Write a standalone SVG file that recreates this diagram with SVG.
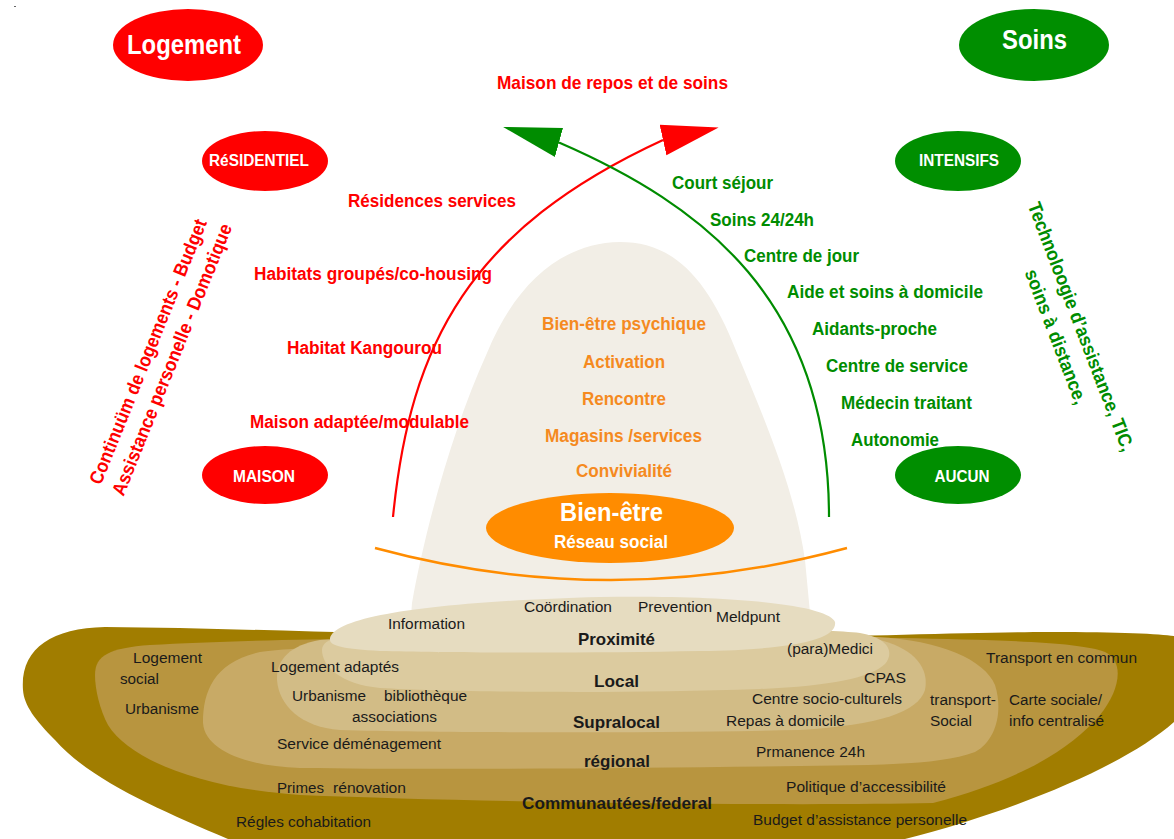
<svg xmlns="http://www.w3.org/2000/svg" width="1174" height="839" viewBox="0 0 1174 839">
  <style>
    text { font-family: "Liberation Sans", Arial, "DejaVu Sans", sans-serif; }
    .b { font-weight: bold; }
    .n { font-weight: normal; }
    .red { fill: #ff0000; }
    .grn { fill: #008c00; }
    .org { fill: #f58a1f; }
    .wht { fill: #ffffff; }
    .blk { fill: #1a1a1a; }
    .big { font-size: 27px; }
    .tag { font-size: 16px; }
    .item { font-size: 18px; }
    .side { font-size: 19px; }
    .lvl { font-size: 15.5px; }
    .lvlb { font-size: 17px; font-weight: bold; }
    .redshape { fill: #ff0000; }
    .grnshape { fill: #008e00; }
  </style>
  <defs>
    <marker id="headRed" markerUnits="userSpaceOnUse" markerWidth="60" markerHeight="34" viewBox="0 -17 60 34" refX="0" refY="0" orient="-12.6">
      <path d="M0,-15.5 L57,0 L0,15.5 Z" fill="#ff0000"/>
    </marker>
    <marker id="headGrn" markerUnits="userSpaceOnUse" markerWidth="60" markerHeight="34" viewBox="0 -17 60 34" refX="0" refY="0" orient="-164.5">
      <path d="M0,-15 L58,0 L0,15 Z" fill="#008c00"/>
    </marker>
  </defs>

  <rect width="1174" height="839" fill="#ffffff"/>
  <rect x="14" y="6" width="2" height="1" fill="#666666"/>

  <!-- well-being bell -->
  <path id="bell" d="M 408,655 L 412,603 C 425,530 452,430 487,353 C 515,285 560,243 620,242 C 668,242 705,270 737,353 C 765,420 795,490 805,560 L 814,655 Z" fill="#f2eee6"/>

  <!-- territorial levels, outermost first -->
  <g id="levels">
    <path d="M 23,690 C 20,650 50,628 105,627 C 250,628 400,636 600,638 C 800,640 950,632 1050,632 C 1120,632 1160,634 1174,636 L 1174,722 C 1120,770 1000,815 905,839 L 228,839 C 160,810 90,780 55,740 C 35,720 24,705 23,690 Z" fill="#a17d00"/>
    <path d="M 95,675 C 95,655 110,648 150,645 C 300,636 600,636 900,638 C 1000,640 1080,642 1105,652 C 1125,662 1120,690 1100,715 C 1070,750 1020,780 933,803 C 800,806 500,803 300,795 C 200,788 130,760 108,725 C 100,710 95,690 95,675 Z" fill="#b8953f"/>
    <path d="M 203,723 C 203,690 215,662 260,652 C 350,640 700,636 877,637 C 940,640 985,660 995,685 C 1003,710 997,740 975,752 C 940,765 880,765 800,766 C 650,768 450,770 300,768 C 245,766 205,750 203,723 Z" fill="#c8aa66"/>
    <path d="M 277,680 C 276,660 290,645 320,640 C 450,634 750,634 870,638 C 910,645 930,665 925,690 C 918,712 880,725 800,730 C 650,733 450,733 340,730 C 300,727 279,705 277,680 Z" fill="#d2bc86"/>
    <path d="M 322,650 C 322,638 345,632 400,630 C 550,626 800,626 860,633 C 888,638 895,652 885,664 C 870,678 830,686 760,689 C 620,694 450,692 380,688 C 340,684 322,666 322,650 Z" fill="#dccb9f"/>
    <path d="M 330,640 C 330,618 420,602 600,597 C 760,595 830,608 835,622 C 838,640 790,650 700,651 C 600,653 450,653 380,651 C 345,649 330,646 330,640 Z" fill="#e6dcc0"/>
  </g>

  <!-- arcs and arrows -->
  <g id="connectors" fill="none">
    <path d="M 393,517 C 410,343 470,229 663,140" stroke="#ff0000" stroke-width="2.2" marker-end="url(#headRed)"/>
    <path d="M 829,517 C 829,300 703,205 559,142.5" stroke="#008c00" stroke-width="2.2" marker-end="url(#headGrn)"/>
    <path d="M 375,548 Q 611,612 847,548" stroke="#ff8c00" stroke-width="2.5"/>
  </g>

  <!-- housing side -->
  <g id="node-logement">
    <ellipse cx="188" cy="45" rx="75" ry="36" class="redshape"/>
    <text x="184" y="54" text-anchor="middle" class="b big wht" textLength="114" lengthAdjust="spacingAndGlyphs">Logement</text>
  </g>
  <g id="node-residentiel">
    <ellipse cx="265" cy="161" rx="63" ry="30" class="redshape"/>
    <text x="259" y="166" text-anchor="middle" class="b tag wht" textLength="100" lengthAdjust="spacingAndGlyphs">RéSIDENTIEL</text>
  </g>
  <g id="node-maison">
    <ellipse cx="265" cy="475" rx="63" ry="29" class="redshape"/>
    <text x="264" y="482" text-anchor="middle" class="b tag wht" textLength="62" lengthAdjust="spacingAndGlyphs">MAISON</text>
  </g>
  <g id="housing-list" class="b item red">
    <text x="348" y="207" textLength="168" lengthAdjust="spacingAndGlyphs">Résidences services</text>
    <text x="254" y="280" textLength="238" lengthAdjust="spacingAndGlyphs">Habitats groupés/co-housing</text>
    <text x="287" y="354" textLength="155" lengthAdjust="spacingAndGlyphs">Habitat Kangourou</text>
    <text x="250" y="428" textLength="219" lengthAdjust="spacingAndGlyphs">Maison adaptée/modulable</text>
  </g>
  <g id="housing-note" class="b side red" text-anchor="middle">
    <text transform="translate(154,354) rotate(-68)" textLength="284" lengthAdjust="spacingAndGlyphs">Continuüm de logements - Budget</text>
    <text transform="translate(178,362) rotate(-68)" textLength="291" lengthAdjust="spacingAndGlyphs">Assistance personelle - Domotique</text>
  </g>

  <!-- care side -->
  <g id="node-soins">
    <ellipse cx="1034" cy="45" rx="75" ry="36" class="grnshape"/>
    <text x="1034.5" y="49" text-anchor="middle" class="b big wht" textLength="65" lengthAdjust="spacingAndGlyphs">Soins</text>
  </g>
  <g id="node-intensifs">
    <ellipse cx="958" cy="161" rx="63" ry="30" class="grnshape"/>
    <text x="959" y="166" text-anchor="middle" class="b tag wht" textLength="80" lengthAdjust="spacingAndGlyphs">INTENSIFS</text>
  </g>
  <g id="node-aucun">
    <ellipse cx="958" cy="475" rx="63" ry="29" class="grnshape"/>
    <text x="962" y="482" text-anchor="middle" class="b tag wht" textLength="55" lengthAdjust="spacingAndGlyphs">AUCUN</text>
  </g>
  <g id="care-list" class="b item grn">
    <text x="672" y="189" textLength="101" lengthAdjust="spacingAndGlyphs">Court séjour</text>
    <text x="710" y="226" textLength="104" lengthAdjust="spacingAndGlyphs">Soins 24/24h</text>
    <text x="744" y="262" textLength="115" lengthAdjust="spacingAndGlyphs">Centre de jour</text>
    <text x="787" y="298" textLength="196" lengthAdjust="spacingAndGlyphs">Aide et soins à domicile</text>
    <text x="812" y="335" textLength="125" lengthAdjust="spacingAndGlyphs">Aidants-proche</text>
    <text x="826" y="372" textLength="142" lengthAdjust="spacingAndGlyphs">Centre de service</text>
    <text x="841" y="409" textLength="131" lengthAdjust="spacingAndGlyphs">Médecin traitant</text>
    <text x="851" y="446" textLength="88" lengthAdjust="spacingAndGlyphs">Autonomie</text>
  </g>
  <g id="care-note" class="b side grn" text-anchor="middle">
    <text transform="translate(1075,329) rotate(69)" textLength="265" lengthAdjust="spacingAndGlyphs">Technoloogie d’assistance, TIC,</text>
    <text transform="translate(1050,339) rotate(69)" textLength="143" lengthAdjust="spacingAndGlyphs">soins à distance,</text>
  </g>

  <!-- top goal -->
  <g id="node-maison-repos">
    <text x="612.5" y="89" text-anchor="middle" class="b red" font-size="19" textLength="231" lengthAdjust="spacingAndGlyphs">Maison de repos et de soins</text>
  </g>

  <!-- well-being core -->
  <g id="wellbeing-list" class="b item org" text-anchor="middle">
    <text x="624" y="330" textLength="164" lengthAdjust="spacingAndGlyphs">Bien-être psychique</text>
    <text x="624" y="368" textLength="82" lengthAdjust="spacingAndGlyphs">Activation</text>
    <text x="624" y="405" textLength="84" lengthAdjust="spacingAndGlyphs">Rencontre</text>
    <text x="623.5" y="442" textLength="157" lengthAdjust="spacingAndGlyphs">Magasins /services</text>
    <text x="624" y="477" textLength="96" lengthAdjust="spacingAndGlyphs">Convivialité</text>
  </g>
  <g id="node-bienetre">
    <ellipse cx="610" cy="528" rx="124" ry="35" fill="#ff8c00"/>
    <text x="611.5" y="521" text-anchor="middle" class="b wht" font-size="26" textLength="103" lengthAdjust="spacingAndGlyphs">Bien-être</text>
    <text x="611" y="548" text-anchor="middle" class="b wht" font-size="18" textLength="114" lengthAdjust="spacingAndGlyphs">Réseau social</text>
  </g>

  <!-- level names -->
  <g id="level-names" class="lvlb blk">
    <text x="578" y="645" textLength="77" lengthAdjust="spacingAndGlyphs">Proximité</text>
    <text x="594" y="687" textLength="45" lengthAdjust="spacingAndGlyphs">Local</text>
    <text x="573" y="728" textLength="87" lengthAdjust="spacingAndGlyphs">Supralocal</text>
    <text x="584" y="767" textLength="66" lengthAdjust="spacingAndGlyphs">régional</text>
    <text x="522" y="809" textLength="190" lengthAdjust="spacingAndGlyphs">Communautées/federal</text>
  </g>

  <!-- services per level -->
  <g id="level-services" class="n lvl blk">
    <text x="388" y="629" textLength="77" lengthAdjust="spacingAndGlyphs">Information</text>
    <text x="524" y="612" textLength="88" lengthAdjust="spacingAndGlyphs">Coördination</text>
    <text x="638" y="612" textLength="74" lengthAdjust="spacingAndGlyphs">Prevention</text>
    <text x="716" y="622" textLength="64" lengthAdjust="spacingAndGlyphs">Meldpunt</text>
    <text x="133" y="663" textLength="69" lengthAdjust="spacingAndGlyphs">Logement</text>
    <text x="120" y="684" textLength="39" lengthAdjust="spacingAndGlyphs">social</text>
    <text x="125" y="714" textLength="74" lengthAdjust="spacingAndGlyphs">Urbanisme</text>
    <text x="271" y="672" textLength="128" lengthAdjust="spacingAndGlyphs">Logement adaptés</text>
    <text x="292" y="701" textLength="74" lengthAdjust="spacingAndGlyphs">Urbanisme</text>
    <text x="384" y="701" textLength="83" lengthAdjust="spacingAndGlyphs">bibliothèque</text>
    <text x="352" y="722" textLength="85" lengthAdjust="spacingAndGlyphs">associations</text>
    <text x="277" y="749" textLength="164" lengthAdjust="spacingAndGlyphs">Service déménagement</text>
    <text x="277" y="793" textLength="47" lengthAdjust="spacingAndGlyphs">Primes</text>
    <text x="333" y="793" textLength="73" lengthAdjust="spacingAndGlyphs">rénovation</text>
    <text x="236" y="827" textLength="135" lengthAdjust="spacingAndGlyphs">Régles cohabitation</text>
    <text x="787" y="654" textLength="86" lengthAdjust="spacingAndGlyphs">(para)Medici</text>
    <text x="864" y="683" textLength="42" lengthAdjust="spacingAndGlyphs">CPAS</text>
    <text x="752" y="704" textLength="150" lengthAdjust="spacingAndGlyphs">Centre socio-culturels</text>
    <text x="726" y="726" textLength="119" lengthAdjust="spacingAndGlyphs">Repas à domicile</text>
    <text x="930" y="705" textLength="66" lengthAdjust="spacingAndGlyphs">transport-</text>
    <text x="930" y="726" textLength="42" lengthAdjust="spacingAndGlyphs">Social</text>
    <text x="986" y="663" textLength="151" lengthAdjust="spacingAndGlyphs">Transport en commun</text>
    <text x="1009" y="705" textLength="93" lengthAdjust="spacingAndGlyphs">Carte sociale/</text>
    <text x="1009" y="726" textLength="95" lengthAdjust="spacingAndGlyphs">info centralisé</text>
    <text x="756" y="757" textLength="109" lengthAdjust="spacingAndGlyphs">Prmanence 24h</text>
    <text x="786" y="792" textLength="160" lengthAdjust="spacingAndGlyphs">Politique d’accessibilité</text>
    <text x="753" y="825" textLength="214" lengthAdjust="spacingAndGlyphs">Budget d’assistance personelle</text>
  </g>
</svg>
